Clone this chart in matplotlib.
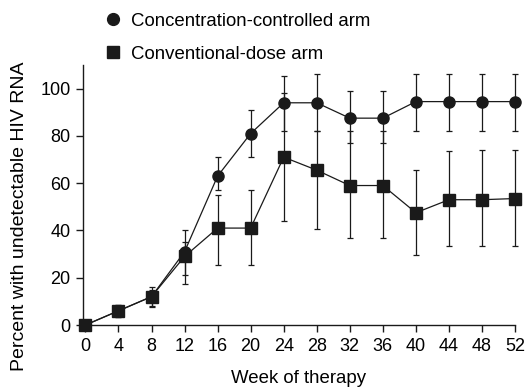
import matplotlib
matplotlib.use("Agg")
import matplotlib.pyplot as plt
from matplotlib.lines import Line2D

plt.rcParams['font.family'] = ['Liberation Sans', 'DejaVu Sans']

weeks = [0, 4, 8, 12, 16, 20, 24, 28, 32, 36, 40, 44, 48, 52]

# concentration-controlled arm (circles)
conc = [0, 6, 12, 31, 63, 81, 94, 94, 87.5, 87.5, 94.5, 94.5, 94.5, 94.5]
conc_lo = [0, 3.5, 7.5, 21, 57, 71, 82, 82, 77, 77, 82, 82, 82, 82]
conc_hi = [0, 8.5, 16, 40, 71, 91, 105.5, 106, 99, 99, 106, 106, 106, 106]

# conventional-dose arm (squares)
conv = [0, 6, 12, 29, 41, 41, 71, 65.5, 59, 59, 47.5, 53, 53, 53.5]
conv_lo = [0, 3.5, 8, 17.5, 25.5, 25.5, 44, 40.5, 37, 37, 29.5, 33.5, 33.5, 33.5]
conv_hi = [0, 8.5, 15, 35, 55, 57, 98, 82, 82, 82, 65.5, 73.5, 74, 74]

yticks = [0, 20, 40, 60, 80, 100]

fig = plt.figure(figsize=(5.25, 3.89), dpi=100)
ax = fig.add_axes([0.158, 0.1645, 0.823, 0.6685])

ink = '#1a1a1a'

def err(vals, lo, hi):
    return [[v - l for v, l in zip(vals, lo)], [h - v for v, h in zip(vals, hi)]]

ax.errorbar(weeks, conv, yerr=err(conv, conv_lo, conv_hi), fmt='s-', color=ink,
            ms=8.5, lw=0.9, elinewidth=0.9, capsize=2.2, capthick=0.9,
            clip_on=False, zorder=3)
ax.errorbar(weeks, conc, yerr=err(conc, conc_lo, conc_hi), fmt='o-', color=ink,
            ms=8, lw=0.9, elinewidth=0.9, capsize=2.2, capthick=0.9,
            clip_on=False, zorder=4)

ax.set_xlim(-0.3, 52)
ax.set_ylim(0, 110)
ax.set_xticks(weeks)
ax.set_yticks(yticks)
for s in ['top', 'right']:
    ax.spines[s].set_visible(False)
for s in ['left', 'bottom']:
    ax.spines[s].set_linewidth(1.0)
    ax.spines[s].set_color(ink)
ax.tick_params(direction='out', length=5, width=1.0, color=ink,
               labelsize=13, pad=4)

ax.set_xlabel('Week of therapy', fontsize=13.4)
ax.xaxis.set_label_coords(0.5, -0.172)
ax.set_ylabel('Percent with undetectable HIV RNA', fontsize=14)
ax.yaxis.set_label_coords(-0.127, 0.42)

handles = [Line2D([], [], marker='o', ls='', color=ink, ms=8.5),
           Line2D([], [], marker='s', ls='', color=ink, ms=8)]
fig.legend(handles, ['Concentration-controlled arm', 'Conventional-dose arm'],
           loc='upper left', bbox_to_anchor=(0.165, 1.01), frameon=False,
           fontsize=13.4, handletextpad=0.5, labelspacing=0.85,
           handlelength=1.0)

fig.savefig('out.png', dpi=100)
